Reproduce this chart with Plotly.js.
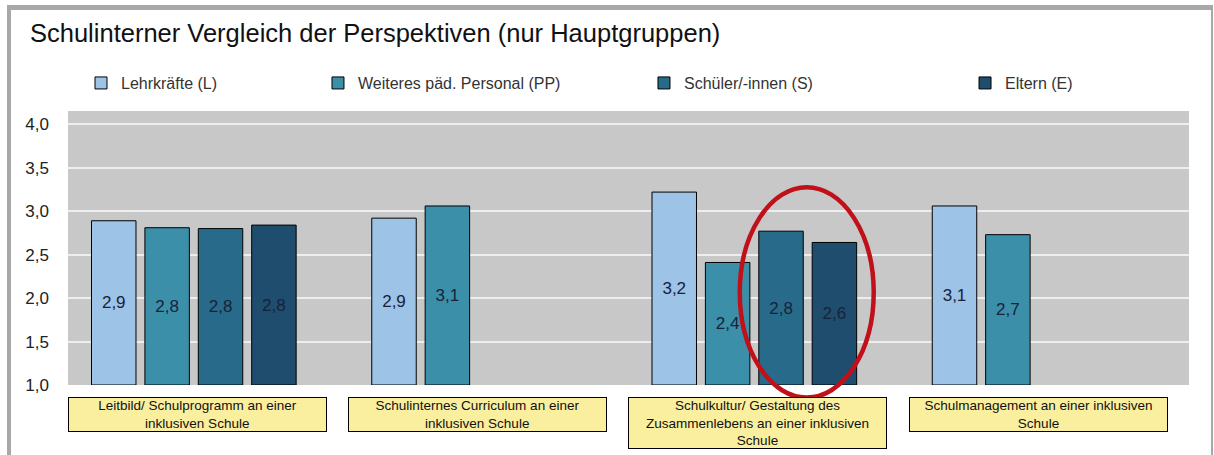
<!DOCTYPE html>
<html>
<head>
<meta charset="utf-8">
<script src="https://cdn.plot.ly/plotly-3.0.1.min.js"></script>
<style>
  html, body { margin: 0; padding: 0; background: #ffffff; }
  #wrap { position: relative; width: 1214px; height: 455px; overflow: hidden; }
  #chart { position: absolute; left: 0; top: 0; width: 1214px; height: 455px; }
  #frame { position: absolute; left: 7px; top: 5px; width: 1206px; height: 455px; box-sizing: border-box;
           border-left: 4px solid #a8a8a8; border-top: 5px solid #a8a8a8; border-right: 2px solid #a8a8a8;
           pointer-events: none; }
</style>
</head>
<body>
<div id="wrap">
  <div id="chart"></div>
  <div id="frame"></div>
</div>
<script>
// ---- data ----
const categories = [
  "Leitbild/ Schulprogramm an einer<br>inklusiven Schule",
  "Schulinternes Curriculum an einer<br>inklusiven Schule",
  "Schulkultur/ Gestaltung des<br>Zusammenlebens an einer inklusiven<br>Schule",
  "Schulmanagement an einer inklusiven<br>Schule"
];
const categoryKeys = ["Leitbild", "Curriculum", "Schulkultur", "Schulmanagement"];
const seriesNames = ["Lehrkräfte (L)", "Weiteres päd. Personal (PP)", "Schüler/-innen (S)", "Eltern (E)"];
const valuesL  = [2.89, 2.92, 3.22, 3.06];
const valuesPP = [2.81, 3.06, 2.41, 2.73];
const valuesS  = [2.80, null, 2.77, null];
const valuesE  = [2.84, null, 2.64, null];
const yTicks = [1.0, 1.5, 2.0, 2.5, 3.0, 3.5, 4.0];
const axisBase = 1.0;   // the value axis starts at 1,0 and bars rise from there

// ---- styling ----
const colors = ["#9dc3e6", "#3b8fa9", "#286a8a", "#1f4d6d"];
const legendX = [0.0116, 0.2230, 0.5138, 0.8002];
const legendIds = ["legend", "legend2", "legend3", "legend4"];
const seriesValues = [valuesL, valuesPP, valuesS, valuesE];

const fmt = v => (v === null ? "" : v.toFixed(1).replace(".", ","));

const traces = seriesValues.map((vals, i) => ({
  type: "bar",
  name: seriesNames[i],
  x: categoryKeys,
  y: vals.map(v => (v === null ? null : v - axisBase)),
  base: axisBase,
  text: vals.map(fmt),
  texttemplate: "%{text}",
  textposition: "inside",
  insidetextanchor: "middle",
  textangle: 0,
  constraintext: "none",
  insidetextfont: { family: "Liberation Sans, Arial, sans-serif", size: 17, color: "#18223a" },
  marker: { color: colors[i], line: { color: "#000000", width: 1 } },
  legend: legendIds[i],
  hoverinfo: "skip"
}));

const legendBase = (x) => ({
  orientation: "h",
  x: x, xanchor: "left",
  y: 1.102, yanchor: "middle",
  bgcolor: "rgba(0,0,0,0)",
  borderwidth: 0,
  font: { family: "Liberation Sans, Arial, sans-serif", size: 16, color: "#333333" }
});

const annotations = categoryKeys.map((k, i) => ({
  xref: "x", yref: "paper",
  x: k, y: -0.044,
  xanchor: "center", yanchor: "top",
  xshift: 3.5,
  text: categories[i],
  showarrow: false,
  width: 257,
  align: "center",
  bgcolor: "#faee9f",
  bordercolor: "#000000",
  borderwidth: 1,
  borderpad: 0,
  font: { family: "Liberation Sans, Arial, sans-serif", size: 13.5, color: "#111111" }
}));

const layout = {
  width: 1214, height: 455,
  margin: { l: 68, r: 25, t: 111, b: 70, pad: 0 },
  paper_bgcolor: "rgba(0,0,0,0)",
  plot_bgcolor: "#c8c8c8",
  separators: ",.",
  title: {
    text: "Schulinterner Vergleich der Perspektiven (nur Hauptgruppen)",
    x: 30 / 1214, xanchor: "left", xref: "container",
    y: 1 - 33 / 455, yanchor: "middle", yref: "container",
    font: { family: "Liberation Sans, Arial, sans-serif", size: 25.5, color: "#111111" }
  },
  barmode: "group",
  bargap: 0.238,
  bargroupgap: 0.167,
  xaxis: {
    type: "category",
    range: [-0.449, 3.551],
    showticklabels: false, showgrid: false, zeroline: false, showline: false, ticks: ""
  },
  yaxis: {
    range: [1.0, 4.153],
    tickvals: yTicks,
    tickformat: ".1f",
    ticks: "",
    ticklabelstandoff: 18,
    showgrid: true, gridcolor: "#eeeeee", gridwidth: 2,
    zeroline: false, showline: false,
    tickfont: { family: "Liberation Sans, Arial, sans-serif", size: 17, color: "#222222" }
  },
  showlegend: true,
  legend: legendBase(legendX[0]),
  legend2: legendBase(legendX[1]),
  legend3: legendBase(legendX[2]),
  legend4: legendBase(legendX[3]),
  annotations: annotations,
  shapes: [{
    type: "circle",
    xref: "x", yref: "paper",
    x0: 1.948, x1: 2.426,
    y0: -0.046, y1: 0.7215,
    line: { color: "#c0101a", width: 4.5 },
    fillcolor: "rgba(0,0,0,0)",
    layer: "above"
  }]
};

Plotly.newPlot("chart", traces, layout, { staticPlot: true, displayModeBar: false });
</script>
</body>
</html>
